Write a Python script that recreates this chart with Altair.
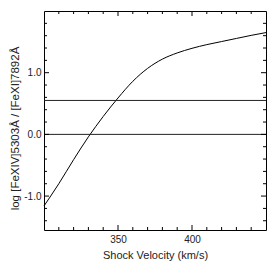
import altair as alt
import pandas as pd

# Curve data
velocity = [300, 310, 320, 330, 340, 350, 360, 370, 380, 390, 400, 410, 420, 430, 440, 450]
log_ratio = [-1.16, -0.80, -0.41, -0.04, 0.29, 0.59, 0.86, 1.07, 1.22, 1.32, 1.395, 1.455, 1.505, 1.555, 1.605, 1.65]

# Horizontal reference lines
hline_values = [0.0, 0.55]

# Tick positions
x_major = [350, 400]
x_minor = [310, 320, 330, 340, 360, 370, 380, 390, 410, 420, 430, 440]
y_major = [-1.0, 0.0, 1.0]
y_minor = [-1.4, -1.2, -0.8, -0.6, -0.4, -0.2, 0.2, 0.4, 0.6, 0.8, 1.2, 1.4, 1.6, 1.8]

W, H = 222, 219
FONT = "Liberation Sans"
MAJ, MIN = 5, 3

xs = alt.Scale(domain=[300, 450], nice=False, zero=False)
ys = alt.Scale(domain=[-1.55, 2.0], nice=False, zero=False)

curve_df = pd.DataFrame({"v": velocity, "r": log_ratio})
hl_df = pd.DataFrame({"y": hline_values})

curve = alt.Chart(curve_df).mark_line(color="black", strokeWidth=1, interpolate="monotone").encode(
    x=alt.X("v:Q", scale=xs, title="Shock Velocity (km/s)",
            axis=alt.Axis(values=x_major, ticks=False, grid=False, domain=False,
                          labelFont=FONT, labelFontSize=10, labelColor="#222",
                          labelPadding=4, titleFont=FONT, titleFontSize=11,
                          titleFontWeight="normal", titleColor="#222", titlePadding=5)),
    y=alt.Y("r:Q", scale=ys, title="log [FeXIV]5303Å / [FeXI]7892Å",
            axis=alt.Axis(values=y_major, ticks=False, grid=False, domain=False,
                          labelExpr="replace(format(datum.value, '.1f'), '\u2212', '-')",
                          labelFont=FONT, labelFontSize=10, labelColor="#222",
                          labelPadding=3, titleFont=FONT, titleFontSize=11.5,
                          titleFontWeight="normal", titleColor="#222",
                          titleBaseline="middle", titleX=-29, titleY=117)),
)

hlines = alt.Chart(hl_df).mark_rule(color="#222", strokeWidth=1).encode(
    y=alt.Y("y:Q", scale=ys)
)

def xticks(vals, size):
    df = pd.DataFrame({"t": vals})
    bottom = alt.Chart(df).mark_rule(color="black").encode(
        x=alt.X("t:Q", scale=xs), y=alt.value(H), y2=alt.value(H - size))
    top = alt.Chart(df).mark_rule(color="black").encode(
        x=alt.X("t:Q", scale=xs), y=alt.value(0), y2=alt.value(size))
    return [bottom, top]

def yticks(vals, size):
    df = pd.DataFrame({"t": vals})
    left = alt.Chart(df).mark_rule(color="black").encode(
        y=alt.Y("t:Q", scale=ys), x=alt.value(0), x2=alt.value(size))
    right = alt.Chart(df).mark_rule(color="black").encode(
        y=alt.Y("t:Q", scale=ys), x=alt.value(W), x2=alt.value(W - size))
    return [left, right]

layers = [curve, hlines] + xticks(x_major, MAJ) + xticks(x_minor, MIN) + yticks(y_major, MAJ) + yticks(y_minor, MIN)

chart = alt.layer(*layers).properties(
    width=W, height=H,
    autosize=alt.AutoSizeParams(type="none"),
    padding={"left": 36, "top": 3, "right": 4, "bottom": 40},
    background="white",
).configure_view(stroke="black", strokeWidth=1)

chart.save("out.html", embed_options={"renderer": "svg", "actions": False})
